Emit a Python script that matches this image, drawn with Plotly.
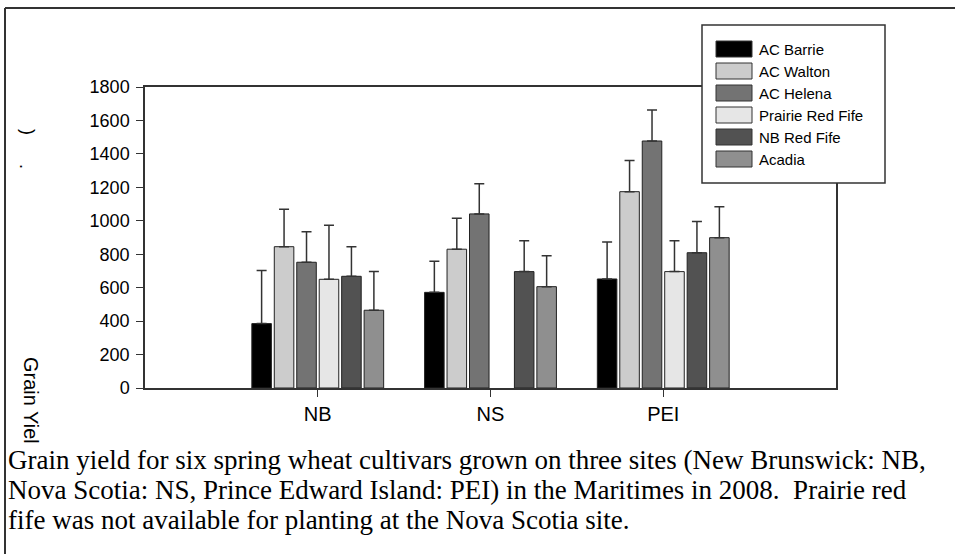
import plotly.graph_objects as go

sites = ["NB", "NS", "PEI"]
cultivars = ["AC Barrie", "AC Walton", "AC Helena", "Prairie Red Fife", "NB Red Fife", "Acadia"]
colors = ["#000000", "#cccccc", "#737373", "#e6e6e6", "#525252", "#8f8f8f"]

yield_barrie = [385, 572, 652]
yield_walton = [845, 830, 1174]
yield_helena = [752, 1041, 1477]
yield_prairie = [650, None, 696]
yield_nbred = [668, 696, 809]
yield_acadia = [465, 606, 899]

err_barrie = [317, 186, 221]
err_walton = [224, 185, 187]
err_helena = [183, 180, 186]
err_prairie = [323, None, 185]
err_nbred = [177, 185, 186]
err_acadia = [231, 185, 185]

y_ticks = [0, 200, 400, 600, 800, 1000, 1200, 1400, 1600, 1800]

caption_lines = [
    "Grain yield for six spring wheat cultivars grown on three sites (New Brunswick: NB,",
    "Nova Scotia: NS, Prince Edward Island: PEI) in the Maritimes in 2008.  Prairie red",
    "fife was not available for planting at the Nova Scotia site.",
]

values = [yield_barrie, yield_walton, yield_helena, yield_prairie, yield_nbred, yield_acadia]
errors = [err_barrie, err_walton, err_helena, err_prairie, err_nbred, err_acadia]

W, H = 955, 554
L, R, T, B = 145, 836, 87, 388


def px(x):
    return (x - L) / (R - L)


def py(y):
    return (B - y) / (B - T)


fig = go.Figure()
for name, col, vals, errs in zip(cultivars, colors, values, errors):
    fig.add_trace(go.Bar(
        x=sites, y=vals, name=name,
        marker=dict(color=col, line=dict(color="#222222", width=1)),
        error_y=dict(type="data", symmetric=False, array=errs,
                     arrayminus=[0] * len(errs), color="#333333",
                     thickness=1.5, width=5),
        showlegend=False,
    ))

shapes = []
annotations = []

# outer frame (top and left)
shapes.append(dict(type="line", xref="paper", yref="paper", x0=px(5), x1=px(W + 5),
                   y0=py(8), y1=py(8), line=dict(color="#333333", width=2), layer="above"))
shapes.append(dict(type="line", xref="paper", yref="paper", x0=px(5), x1=px(5),
                   y0=py(8), y1=py(H + 5), line=dict(color="#333333", width=2), layer="above"))

# legend box
lx0, lx1, ly0, ly1 = 702, 885, 25, 183
shapes.append(dict(type="rect", xref="paper", yref="paper", x0=px(lx0), x1=px(lx1),
                   y0=py(ly1), y1=py(ly0), fillcolor="white",
                   line=dict(color="#333333", width=1.5), layer="above"))
for i, (name, col) in enumerate(zip(cultivars, colors)):
    cy = 49 + i * 22
    shapes.append(dict(type="rect", xref="paper", yref="paper", x0=px(716), x1=px(752),
                       y0=py(cy + 8), y1=py(cy - 8), fillcolor=col,
                       line=dict(color="#333333", width=1), layer="above"))
    annotations.append(dict(xref="paper", yref="paper", x=px(757), y=py(cy), text=name,
                            showarrow=False, xanchor="left", yanchor="middle",
                            font=dict(family="Liberation Sans, Arial", size=15, color="black")))

# y-axis title remnants
annotations.append(dict(xref="paper", yref="paper", x=px(31), y=py(400), text="Grain Yiel",
                        textangle=90, showarrow=False, xanchor="center", yanchor="middle",
                        font=dict(family="Liberation Sans, Arial", size=20, color="black")))
annotations.append(dict(xref="paper", yref="paper", x=px(28), y=py(132), text=")",
                        textangle=90, showarrow=False, xanchor="center", yanchor="middle",
                        font=dict(family="Liberation Sans, Arial", size=18, color="black")))
annotations.append(dict(xref="paper", yref="paper", x=px(26), y=py(166), text=".",
                        textangle=90, showarrow=False, xanchor="center", yanchor="middle",
                        font=dict(family="Liberation Sans, Arial", size=18, color="black")))

# caption
for i, line in enumerate(caption_lines):
    annotations.append(dict(xref="paper", yref="paper", x=px(6), y=py(460 + i * 30), text=line,
                            showarrow=False, xanchor="left", yanchor="middle",
                            font=dict(family="Liberation Serif, Times New Roman", size=27,
                                      color="black")))

fig.update_layout(
    width=W, height=H,
    margin=dict(l=L, r=W - R, t=T, b=H - B, pad=0),
    paper_bgcolor="white", plot_bgcolor="white",
    barmode="group", bargap=0.22, bargroupgap=0.13,
    shapes=shapes, annotations=annotations,
    font=dict(family="Liberation Sans, Arial", color="black"),
)
fig.update_xaxes(type="category", range=[-1, 3], showline=True, mirror=True,
                 linecolor="#333333", linewidth=1.5, ticks="outside", ticklen=7,
                 tickcolor="#333333", tickfont=dict(size=20), showgrid=False)
fig.update_yaxes(range=[0, 1800], tickvals=y_ticks, showline=True, mirror=True,
                 linecolor="#333333", linewidth=1.5, ticks="outside", ticklen=7,
                 tickcolor="#333333", tickfont=dict(size=18), showgrid=False,
                 zeroline=False, ticklabelstandoff=3)

fig.write_html("out.html", config={"displayModeBar": False},
               post_script="document.body.style.margin='0';document.body.style.overflow='hidden';")
